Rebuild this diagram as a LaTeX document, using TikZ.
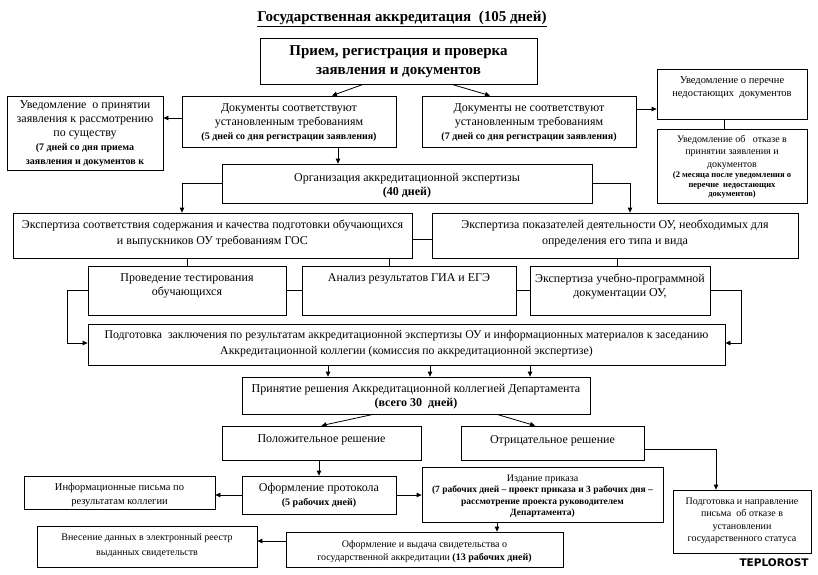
\documentclass[tikz,border=0pt]{standalone}
\usepackage{fontspec}
\setmainfont{Liberation Serif}
\newfontfamily\wmfont{DejaVu Sans}
\usetikzlibrary{arrows.meta,fit,calc}
\newcommand\bx[5]{\coordinate (#1a) at (#2,#3); \coordinate (#1b) at (#4,#5); \node[box, fit=(#1a)(#1b)] (#1) {};}
\newcommand\smb[1]{{\fontsize{10}{13}\selectfont\bfseries #1}}
\newcommand\tnb[1]{{\fontsize{8.5}{10}\selectfont\bfseries #1}}
\begin{document}
\begin{tikzpicture}[x=1pt,y=-1pt,
 box/.style={draw, line width=0.8pt, inner sep=0pt},
 txt/.style={align=center, inner sep=0pt, yshift=-1.5pt, font=\fontsize{12}{14}\selectfont},
 stxt/.style={align=center, inner sep=0pt, yshift=-1pt, font=\fontsize{10}{12.5}\selectfont},
 ln/.style={line width=0.8pt},
 arr/.style={line width=0.8pt, -{Triangle[length=5pt,width=4.5pt]}}]
\path[use as bounding box, fill=white] (0,0) rectangle (818,574);

% title
\node[inner sep=0pt, font=\fontsize{15}{18}\selectfont\bfseries] (title) at (402,19) {\underline{Государственная аккредитация\ \ (105 дней)}};

% boxes
\bx{prm}{260}{38}{537}{84}
\bx{doca}{182}{96}{396}{147}
\bx{uvp}{7}{96}{163}{170}
\bx{docb}{422}{96}{636}{147}
\bx{per}{657}{69}{807}{119}
\bx{otk}{657}{129}{807}{203}
\bx{org}{222}{164}{592}{203}
\bx{expa}{13}{213}{412}{258}
\bx{expb}{432}{213}{798}{258}
\bx{tst}{88}{266}{286}{315}
\bx{anl}{302}{266}{516}{315}
\bx{uch}{530}{266}{710}{315}
\bx{pdg}{88}{324}{725}{365}
\bx{prn}{242}{377}{590}{414}
\bx{pol}{222}{426}{421}{460}
\bx{otr}{461}{426}{644}{460}
\bx{ofp}{242}{476}{396}{514}
\bx{inf}{24}{476}{215}{509}
\bx{izd}{422}{467}{663}{522}
\bx{npr}{673}{490}{811}{553}
\bx{vyd}{286}{532}{563}{567}
\bx{vns}{37}{526}{257}{567}

% texts
\node[inner sep=0pt, align=center, font=\fontsize{15}{19}\selectfont\bfseries] (prmt) at (398.5,62) {Прием, регистрация и проверка\\ заявления и документов};
\node[txt] (docat) at (289,121) {Документы соответствуют\\ установленным требованиям\\ \smb{(5 дней со дня регистрации заявления)}};
\node[txt] (uvpt) at (85,132) {Уведомление\ \ о принятии\\ заявления к рассмотрению\\ по существу\\ \smb{(7 дней со дня приема}\\ \smb{заявления и документов к}};
\node[txt] (docbt) at (529,121) {Документы не соответствуют\\ установленным требованиям\\ \smb{(7 дней со дня регистрации заявления)}};
\node[stxt, font=\fontsize{10.5}{13}\selectfont] (pert) at (732,86.5) {Уведомление о перечне\\ недостающих\ \ документов};
\node[stxt] (otkt) at (732,166) {Уведомление об\ \ \ отказе в\\ принятии заявления и\\ документов\\[-2pt] \tnb{(2 месяца после уведомления о}\\[-3pt] \tnb{перечне\ \ недостающих}\\[-3pt] \tnb{документов)}};
\node[txt] (orgt) at (407,184.5) {Организация аккредитационной экспертизы\\ \textbf{(40 дней)}};
\node[txt] (expat) at (212.5,231.5) {Экспертиза соответствия содержания и качества подготовки обучающихся\\[2pt] и выпускников ОУ требованиям ГОС};
\node[txt] (expbt) at (615,232) {Экспертиза показателей деятельности ОУ, необходимых для\\[2pt] определения его типа и вида};
\node[txt] (tstt) at (187,284.5) {Проведение тестирования\\ обучающихся};
\node[txt] (anlt) at (409,277) {Анализ результатов ГИА и ЕГЭ};
\node[txt] (ucht) at (620,284.5) {Экспертиза учебно-программной\\ документации ОУ,};
\node[txt, font=\fontsize{11.8}{14}\selectfont] (pdgt) at (406.5,342) {Подготовка\ \ заключения по результатам аккредитационной экспертизы ОУ и информационных материалов к заседанию\\[2pt] Аккредитационной коллегии (комиссия по аккредитационной экспертизе)};
\node[txt] (prnt) at (416,395) {Принятие решения Аккредитационной коллегией Департамента\\ \textbf{(всего 30\ \ дней)}};
\node[txt] (polt) at (321.5,438) {Положительное решение};
\node[txt] (otrt) at (552.5,439) {Отрицательное решение};
\node[txt] (ofpt) at (319,493.5) {Оформление протокола\\ \smb{(5 рабочих дней)}};
\node[stxt, font=\fontsize{10.5}{14}\selectfont] (inft) at (119.5,493.5) {Информационные письма по\\ результатам коллегии};
\node[stxt, font=\fontsize{10}{11.5}\selectfont] (izdt) at (542.5,495) {Издание приказа\\ {\fontsize{9.5}{11}\selectfont\bfseries (7 рабочих дней – проект приказа и 3 рабочих дня –}\\ {\fontsize{9.5}{11}\selectfont\bfseries рассмотрение проекта руководителем}\\ {\fontsize{9.5}{11}\selectfont\bfseries Департамента)}};
\node[stxt] (nprt) at (742,520) {Подготовка и направление\\ письма\ \ об отказе в\\ установлении\\ государственного статуса};
\node[stxt, font=\fontsize{10}{13}\selectfont] (vydt) at (424.5,550.5) {Оформление и выдача свидетельства о\\ государственной аккредитации \textbf{(13 рабочих дней)}};
\node[stxt, font=\fontsize{10}{15}\selectfont] (vnst) at (147,544.5) {Внесение данных в электронный реестр\\ выданных свидетельств};
\node[inner sep=0pt, font=\wmfont\bfseries\fontsize{10.5}{12}\selectfont] (wm) at (774,563) {TEPLOROST};

% connectors
\draw[arr] ([xshift=-35.5pt]prm.south) -- ([xshift=43pt]doca.north);
\draw[arr] ([xshift=53.5pt]prm.south) -- ([xshift=-39pt]docb.north);
\draw[arr] ([yshift=3.5pt]doca.west) -- ([yshift=3.5pt]doca.west -| uvp.east);
\draw[arr] ([yshift=12.5pt]docb.east) -- ([yshift=12.5pt]docb.east -| per.west);
\coordinate (c1) at ([xshift=-8pt]per.south);
\draw[ln] (c1) -- (c1 |- otk.north);
\coordinate (c2) at ([xshift=49pt]doca.south);
\draw[arr] (c2) -- (c2 |- org.north);
\draw[arr] (org.west) -| ([xshift=-30.5pt]expa.north);
\draw[arr] (org.east) -| ([xshift=15pt]expb.north);
\draw[ln] ([yshift=-3.5pt]expa.east) -- ([yshift=-3.5pt]expa.east -| expb.west);
\draw[ln] (tst.north |- expa.south) -- (tst.north);
\coordinate (c3) at ([xshift=-19.5pt]anl.north);
\draw[ln] (c3 |- expa.south) -- (c3);
\coordinate (c4) at ([xshift=-3pt]uch.north);
\draw[ln] (c4 |- expb.south) -- (c4);
\draw[ln] (tst.east) -- (tst.east -| anl.west);
\draw[ln] (anl.east) -- (anl.east -| uch.west);
\draw[arr] (tst.west) -- ++(-20,0) |- ([yshift=1.5pt]pdg.west);
\draw[arr] (uch.east) -- ++(31,0) |- ([yshift=1.5pt]pdg.east);
\foreach \s/\n in {-88/d1,14/d2,114/d3}{
  \coordinate (\n) at ([xshift=\s pt]prn.north);
  \draw[arr] (\n |- pdg.south) -- (\n);
}
\draw[arr] ([xshift=-43pt]prn.south) -- (pol.north);
\draw[arr] ([xshift=81pt]prn.south) -- ([xshift=-17.5pt]otr.north);
\draw[arr] (ofp.north |- pol.south) -- (ofp.north);
\draw[arr] (ofp.west) -- (ofp.west -| inf.east);
\draw[arr] (ofp.east) -- (ofp.east -| izd.west);
\draw[arr] ([yshift=-6pt]otr.east) -| ([xshift=-26pt]npr.north);
\coordinate (c5) at ([xshift=-45.5pt]izd.south);
\draw[arr] (c5) -- (c5 |- vyd.north);
\draw[arr] ([yshift=8.5pt]vyd.west) -- ([yshift=8.5pt]vyd.west -| vns.east);
\end{tikzpicture}
\end{document}
